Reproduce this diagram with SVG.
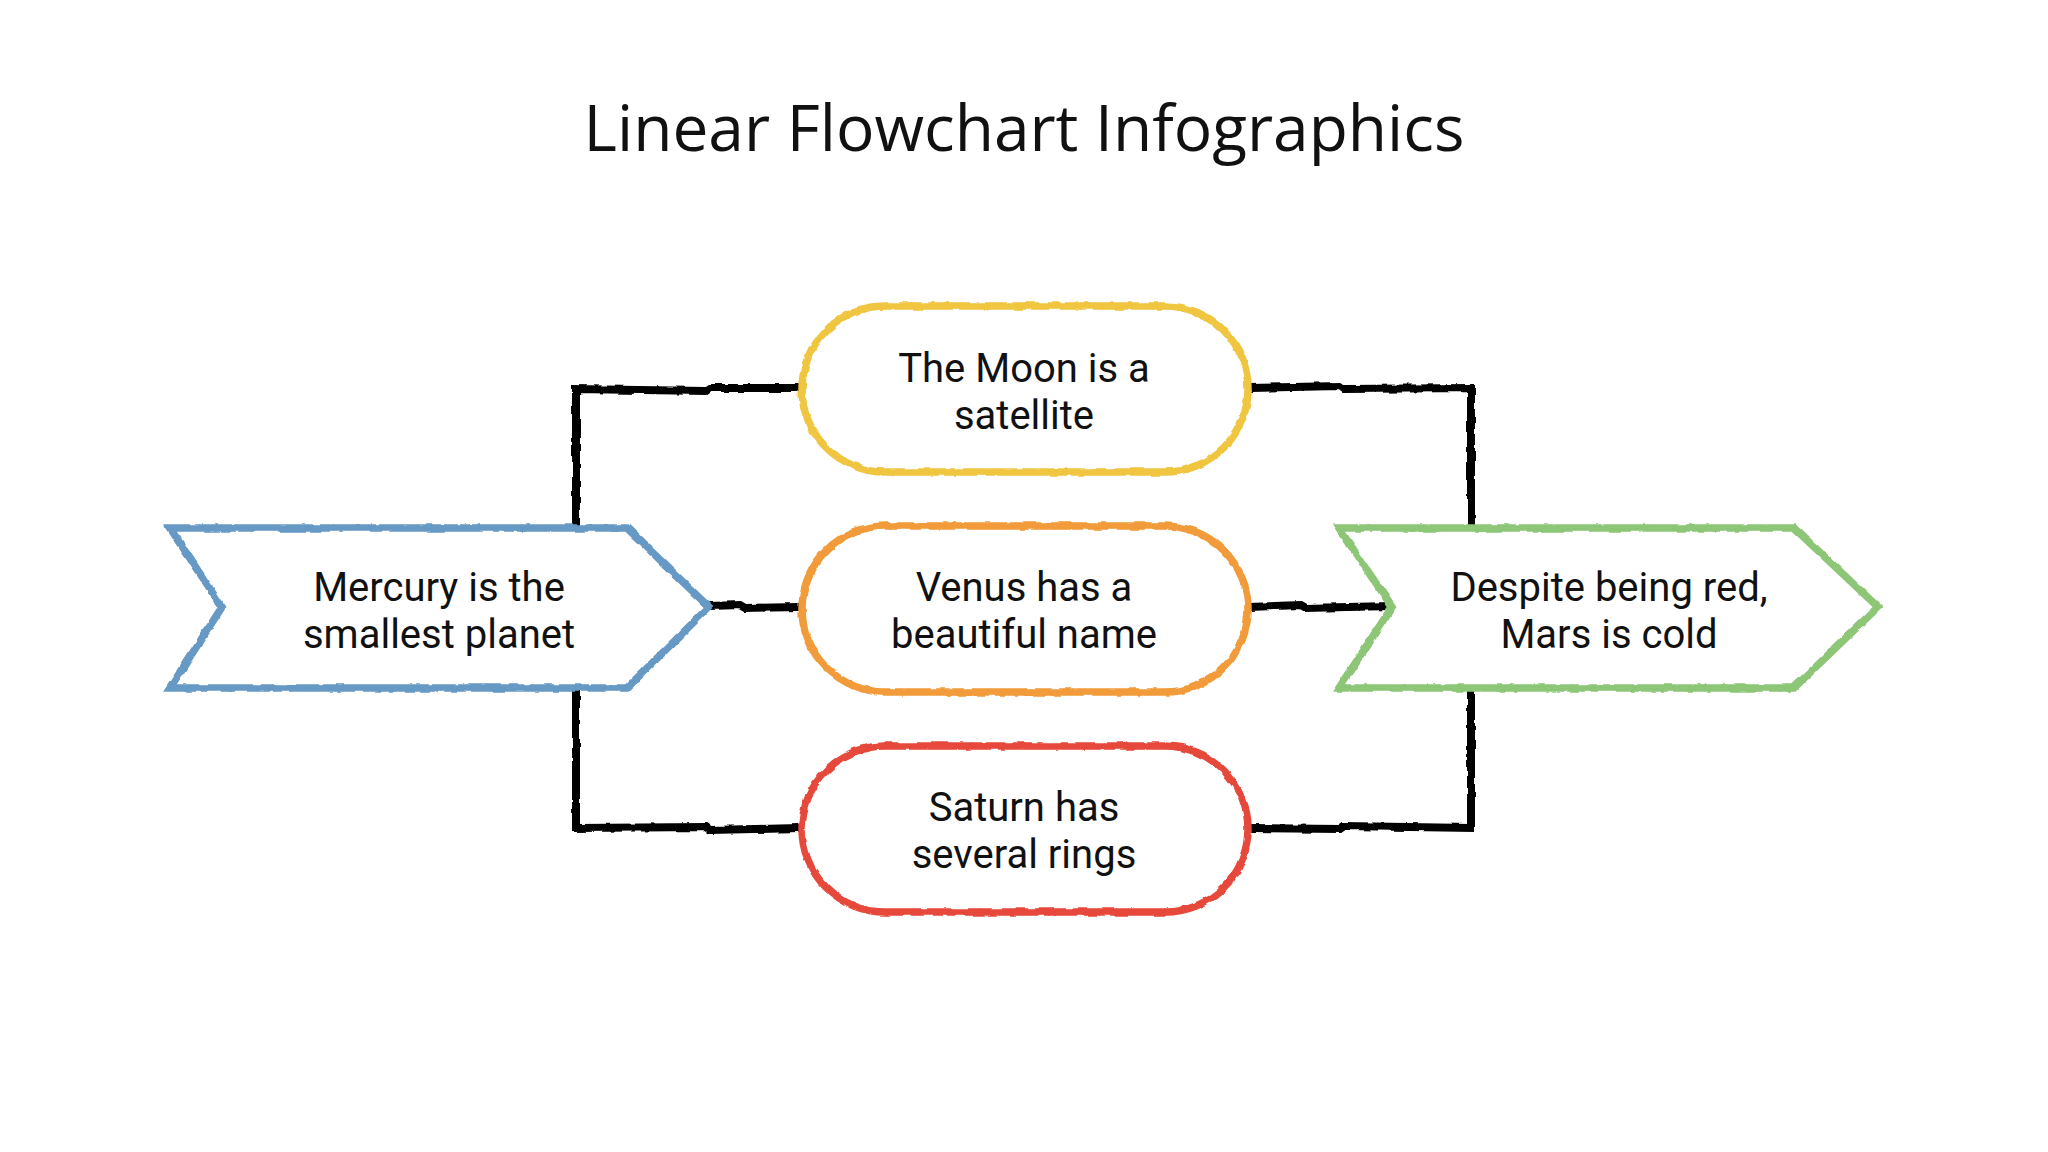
<svg xmlns="http://www.w3.org/2000/svg" width="2048" height="1152" viewBox="0 0 2048 1152">
<defs>
<filter id="rough" x="-5%" y="-5%" width="110%" height="110%">
<feTurbulence type="fractalNoise" baseFrequency="0.08" numOctaves="2" seed="3" result="n"/>
<feDisplacementMap in="SourceGraphic" in2="n" scale="4" xChannelSelector="R" yChannelSelector="G"/>
</filter>
<style>
.title{font-family:"Open Sans","Noto Sans",sans-serif;font-size:64px;fill:#111;text-anchor:middle}
.lbl{font-family:Roboto,"Liberation Sans",sans-serif;font-size:40px;fill:#111;text-anchor:middle}
.conn{fill:none;stroke:#000;stroke-width:8;stroke-linejoin:miter}
.shape{fill:#fff;stroke-width:7.5;stroke-linejoin:miter}
</style>
</defs>
<rect width="2048" height="1152" fill="#fff"/>
<text class="title" x="1024" y="151">Linear Flowchart Infographics</text>
<g id="connectors" filter="url(#rough)">
<path class="conn" d="M799,388 L710,388 L706,391 L576,389 L576,828 L706,827 L710,830 L799,828"/>
<path class="conn" d="M1250,388 L1340,386 L1344,389 L1471,388 L1471,828 L1344,826 L1340,829 L1250,828"/>
<path class="conn" d="M709,606 L740,605 L745,608 L799,607"/>
<path class="conn" d="M1250,607 L1300,605 L1305,608 L1392,606"/>
</g>
<g id="mercury">
<path class="shape" filter="url(#rough)" stroke="#6699c4" d="M170,528 L627,528 L709,607 L627,688 L170,688 L222,607 Z"/>
<text class="lbl" x="439" y="601">Mercury is the</text>
<text class="lbl" x="439" y="648">smallest planet</text>
</g>
<g id="moon">
<rect class="shape" filter="url(#rough)" stroke="#f0c540" x="802" y="306" width="446" height="166" rx="83"/>
<text class="lbl" x="1024" y="382">The Moon is a</text>
<text class="lbl" x="1024" y="429">satellite</text>
</g>
<g id="venus">
<rect class="shape" filter="url(#rough)" stroke="#f29b3a" x="802" y="526" width="446" height="166" rx="83"/>
<text class="lbl" x="1024" y="601">Venus has a</text>
<text class="lbl" x="1024" y="648">beautiful name</text>
</g>
<g id="saturn">
<rect class="shape" filter="url(#rough)" stroke="#e64a3b" x="802" y="746" width="446" height="166" rx="83"/>
<text class="lbl" x="1024" y="821">Saturn has</text>
<text class="lbl" x="1024" y="868">several rings</text>
</g>
<g id="mars">
<path class="shape" filter="url(#rough)" stroke="#8cc676" d="M1339,528 L1794,528 L1878,607 L1794,688 L1339,688 L1392,607 Z"/>
<text class="lbl" x="1609" y="601">Despite being red,</text>
<text class="lbl" x="1609" y="648">Mars is cold</text>
</g>
</svg>
